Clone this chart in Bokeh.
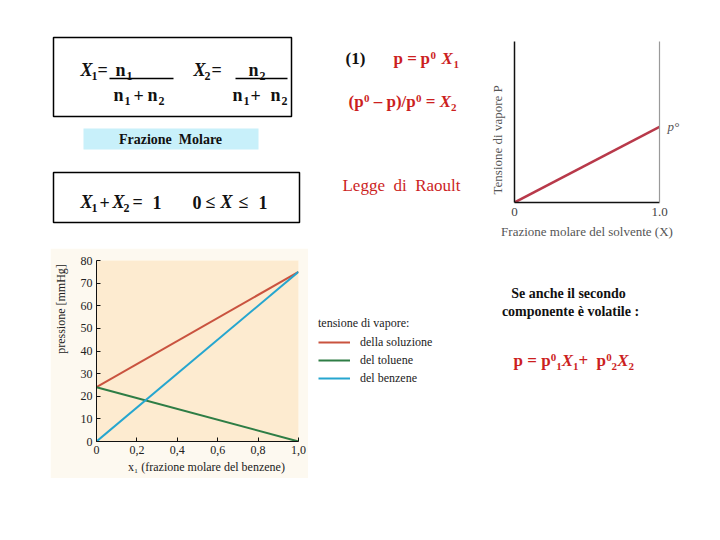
from bokeh.plotting import figure
from bokeh.layouts import row, column
from bokeh.models import (ColumnDataSource, FixedTicker, CustomJSTickFormatter, LinearAxis,
                          Legend, LegendItem, Spacer, Range1d)
from bokeh.core.properties import value
from bokeh.embed import file_html
from bokeh.resources import INLINE

SERIF = "Liberation Serif"
BLACK = "#111111"
RED_T = "#cc1f1f"
NB = "\u00a0"

# ---------------- data: big chart (benzene / toluene) ----------------
x_benzene = [0.0, 1.0]
p_soluzione = [24.0, 75.0]
p_toluene = [24.0, 0.0]
p_benzene = [0.0, 75.0]
big_x_ticks = [0.0, 0.2, 0.4, 0.6, 0.8, 1.0]
big_x_labels = ["0", "0,2", "0,4", "0,6", "0,8", "1,0"]
big_y_ticks = [0, 10, 20, 30, 40, 50, 60, 70, 80]
legend_title = "tensione di vapore:"
legend_labels = ["della soluzione", "del toluene", "del benzene"]
series_colors = ["#c9533f", "#2e7d45", "#26a6cf"]

# ---------------- data: small chart (Raoult) ----------------
x_solvente = [0.0, 1.0]
p_solvente = [0.0, 0.47]
small_x_ticks = [0.0, 1.0]
small_x_labels = ["0", "1.0"]
p_label = "p°"

LABEL_CODE = """
const i = tvals.findIndex(t => Math.abs(t - tick) < 1e-9);
return i >= 0 ? tlabels[i] : String(tick);"""


def canvas(width, height, x0, y0):
    f = figure(width=width, height=height,
               x_range=Range1d(x0, x0 + width), y_range=Range1d(y0 + height, y0),
               toolbar_location=None, output_backend="svg",
               x_axis_location=None, y_axis_location=None,
               min_border=0, outline_line_color=None,
               background_fill_color="white", border_fill_color="white")
    f.xgrid.visible = False
    f.ygrid.visible = False
    return f


def text_layer(f, runs, align="left"):
    # runs: (x, baseline_y, text, font px, style, colour); drawn with a middle baseline
    src = ColumnDataSource(dict(
        x=[r[0] for r in runs], y=[r[1] - 0.3375 * r[3] for r in runs], text=[r[2] for r in runs],
        size=["%gpx" % r[3] for r in runs], style=[r[4] for r in runs],
        color=[r[5] for r in runs]))
    f.text(x="x", y="y", text="text", source=src, text_font=value(SERIF),
           text_font_size="size", text_font_style="style", text_color="color",
           text_align=align, text_baseline="middle")


B, BI, N, I = "bold", "bold italic", "normal", "italic"

# ---------------- tile A: formula boxes ----------------
fA = canvas(478, 248, 0, 0)
fA.quad(left=[83], right=[258], top=[128], bottom=[149], fill_color="#c8f0fa", line_color=None)
fA.quad(left=[53, 53], right=[291, 299], top=[37, 172], bottom=[116, 222],
        fill_color=None, line_color="black", line_width=1.5)
fA.segment(x0=[109, 235], y0=[78, 78], x1=[173, 287], y1=[78, 78], line_color="black", line_width=1.5)

runsA = [
    (80, 76, "X", 18, BI, BLACK), (91, 80, "1", 12, B, BLACK), (97, 76, "=", 18, B, BLACK),
    (115, 76, "n", 18, B, BLACK), (126, 80, "1", 12, B, BLACK),
    (113, 101, "n", 18, B, BLACK), (124, 105, "1", 12, B, BLACK), (133, 101, "+", 18, B, BLACK),
    (147, 101, "n", 18, B, BLACK), (158, 105, "2", 12, B, BLACK),
    (193, 76, "X", 18, BI, BLACK), (204, 80, "2", 12, B, BLACK), (211, 76, "=", 18, B, BLACK),
    (248, 76, "n", 18, B, BLACK), (259, 80, "2", 12, B, BLACK),
    (232, 101, "n", 18, B, BLACK), (243, 105, "1", 12, B, BLACK), (250, 101, "+", 18, B, BLACK),
    (270, 101, "n", 18, B, BLACK), (281, 105, "2", 12, B, BLACK),
    (80, 208, "X", 18, BI, BLACK), (91, 212, "1", 12, B, BLACK), (99, 208, "+", 18, B, BLACK),
    (112, 208, "X", 18, BI, BLACK), (123, 212, "2", 12, B, BLACK), (132, 208, "=", 18, B, BLACK),
    (152, 208, "1", 18, B, BLACK),
    (192, 208, "0", 18, B, BLACK), (205, 208, "≤", 18, B, BLACK), (220, 208, "X", 18, BI, BLACK),
    (238, 208, "≤", 18, B, BLACK), (258, 208, "1", 18, B, BLACK),
    (345, 64, "(1)", 17, B, BLACK),
    (393, 64, "p", 17, B, RED_T), (406.7, 64, "=", 17, B, RED_T), (420, 64, "p", 17, B, RED_T),
    (430, 59, "0", 11, B, RED_T), (441, 64, "X", 17, BI, RED_T), (453, 68, "1", 11, B, RED_T),
    (348, 107, "(p", 17, B, RED_T), (363.5, 102, "0", 11, B, RED_T),
    (369, 107, NB + "–" + NB + "p)/p", 17, B, RED_T),
    (415.5, 102, "0", 11, B, RED_T), (425.3, 107, "=", 17, B, RED_T), (439.3, 107, "X", 17, BI, RED_T),
    (450.6, 111, "2", 11, B, RED_T),
]
text_layer(fA, runsA)
text_layer(fA, [(170, 144, "Frazione" + NB + NB + "Molare", 14, B, BLACK),
                (401, 191, "Legge" + NB + NB + "di" + NB + NB + "Raoult", 17, N, RED_T)], align="center")

# ---------------- tile B: small Raoult chart ----------------
fB = figure(width=242, height=248, x_range=Range1d(0, 1), y_range=Range1d(0, 1),
            toolbar_location=None, output_backend="svg",
            min_border_left=36, min_border_right=61, min_border_top=41, min_border_bottom=46,
            outline_line_color=None, background_fill_color="white", border_fill_color="white")
fB.xgrid.visible = False
fB.ygrid.visible = False
fB.line(x_solvente, p_solvente, line_color="#b8394a", line_width=2.5)

xa = fB.xaxis[0]
xa.ticker = FixedTicker(ticks=small_x_ticks)
xa.formatter = CustomJSTickFormatter(args=dict(tvals=small_x_ticks, tlabels=small_x_labels), code=LABEL_CODE)
xa.axis_label = "Frazione molare del solvente (X)"
ya = fB.yaxis[0]
ya.ticker = FixedTicker(ticks=[])
ya.axis_label = "Tensione di vapore P" + NB * 11
for ax in (xa, ya):
    ax.axis_line_color = BLACK
    ax.axis_line_width = 1.5
    ax.major_tick_out = 0
    ax.major_tick_in = 0
    ax.minor_tick_out = 0
    ax.minor_tick_in = 0
    ax.major_label_text_font = SERIF
    ax.major_label_text_font_size = "13px"
    ax.major_label_text_color = "#444444"
    ax.axis_label_text_font = SERIF
    ax.axis_label_text_font_size = "13px"
    ax.axis_label_text_font_style = "normal"
    ax.axis_label_text_color = "#555555"
xa.major_label_standoff = 5
xa.axis_label_standoff = 5
ya.axis_label_standoff = 10

ra = LinearAxis(ticker=FixedTicker(ticks=[p_solvente[-1]]),
                formatter=CustomJSTickFormatter(args=dict(lbl=p_label), code="return lbl;"))
ra.axis_line_color = "#9a9a9a"
ra.axis_line_width = 1.2
ra.major_tick_out = 0
ra.major_tick_in = 0
ra.minor_tick_out = 0
ra.minor_tick_in = 0
ra.major_label_standoff = 8
ra.major_label_text_font = SERIF
ra.major_label_text_font_size = "13px"
ra.major_label_text_font_style = "italic"
ra.major_label_text_color = "#555555"
fB.add_layout(ra, "right")

# ---------------- tile C: big chart ----------------
fC = figure(width=258, height=230, x_range=Range1d(0, 1), y_range=Range1d(0, 80),
            toolbar_location=None, output_backend="svg",
            min_border_left=43, min_border_right=10, min_border_top=12, min_border_bottom=37,
            outline_line_color=None, background_fill_color="#fdebd0", border_fill_color="#fdf9f0")
fC.xgrid.visible = False
fC.ygrid.visible = False
series = [p_soluzione, p_toluene, p_benzene]
for ys, col in zip(series, series_colors):
    fC.line(x_benzene, ys, line_color=col, line_width=2)

cx = fC.xaxis[0]
cx.ticker = FixedTicker(ticks=big_x_ticks)
cx.formatter = CustomJSTickFormatter(args=dict(tvals=big_x_ticks, tlabels=big_x_labels), code=LABEL_CODE)
cx.axis_label = NB * 7 + "x₁  (frazione molare del benzene)"
cy = fC.yaxis[0]
cy.ticker = FixedTicker(ticks=big_y_ticks)
cy.axis_label = NB * 28 + "pressione [mmHg]"
for ax in (cx, cy):
    ax.axis_line_color = BLACK
    ax.major_tick_line_color = BLACK
    ax.major_tick_out = 0
    ax.major_tick_in = 4
    ax.minor_tick_out = 0
    ax.minor_tick_in = 0
    ax.major_label_standoff = 4
    ax.major_label_text_font = SERIF
    ax.major_label_text_font_size = "12px"
    ax.major_label_text_color = "#222222"
    ax.axis_label_text_font = SERIF
    ax.axis_label_text_font_size = "12px"
    ax.axis_label_text_font_style = "normal"
    ax.axis_label_text_color = "#222222"
cx.axis_label_standoff = 3
cy.axis_label_standoff = 10

# ---------------- tile D: legend + second formula ----------------
fD = canvas(411, 230, 308, 248)
nan = float("nan")
proxies = [fD.line(x=[nan, nan], y=[nan, nan], line_color=col, line_width=2) for col in series_colors]
legend = Legend(items=[LegendItem(label=lab, renderers=[r]) for lab, r in zip(legend_labels, proxies)],
                title=legend_title, location=(10, 91),
                title_text_font=SERIF, title_text_font_size="12px", title_text_font_style="normal",
                title_text_color="#222222", title_standoff=2,
                label_text_font=SERIF, label_text_font_size="12px", label_text_color="#222222",
                glyph_width=32, glyph_height=18, label_height=18, label_standoff=10,
                spacing=0, padding=0, margin=0, border_line_color=None, background_fill_alpha=0)
fD.add_layout(legend)

runsD = [
    (513, 366, "p", 17, B, RED_T), (526.7, 366, "=", 17, B, RED_T), (540.7, 366, "p", 17, B, RED_T),
    (550.2, 361, "0", 11, B, RED_T), (555.7, 370, "1", 11, B, RED_T), (561.2, 366, "X", 17, BI, RED_T),
    (572.5, 370, "1", 11, B, RED_T), (578, 366, "+", 17, B, RED_T), (596, 366, "p", 17, B, RED_T),
    (605.7, 361, "0", 11, B, RED_T), (611, 370, "2", 11, B, RED_T), (616.7, 366, "X", 17, BI, RED_T),
    (628, 370, "2", 11, B, RED_T),
]
text_layer(fD, runsD)
text_layer(fD, [(568, 298, "Se anche il secondo", 14, B, BLACK),
                (570, 316, "componente è volatile :", 14, B, BLACK)], align="center")

# each figure wrapped in its own column so that rows do not align their frames
page = column(row(column(fA), column(fB)),
              row(Spacer(width=50, height=230), column(fC), column(fD)))
open("out.html", "w").write(file_html(page, INLINE))
